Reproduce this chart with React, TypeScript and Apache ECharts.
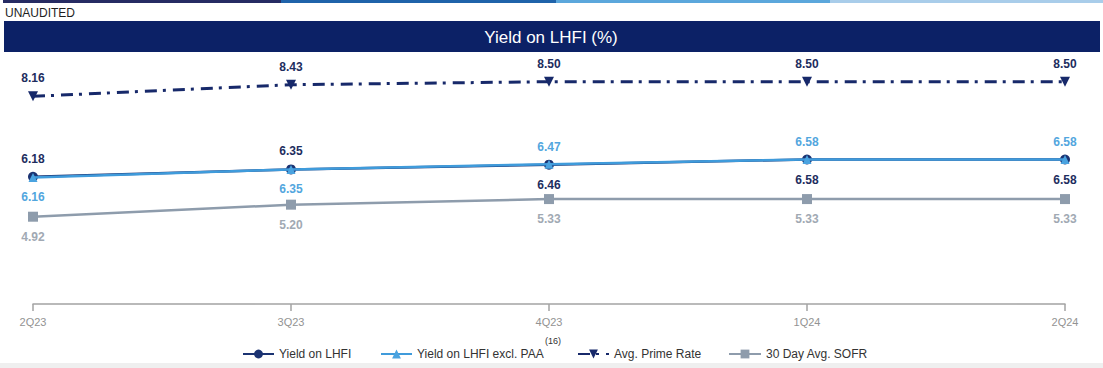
import React, { useEffect, useRef } from "react";
import * as echarts from "echarts";

// Quarters on the category axis
const quarters = ["2Q23", "3Q23", "4Q23", "1Q24", "2Q24"];

// Yields (%)
const yieldLhfi = [6.18, 6.35, 6.46, 6.58, 6.58];
const yieldExclPaa = [6.16, 6.35, 6.47, 6.58, 6.58];
const avgPrimeRate = [8.16, 8.43, 8.5, 8.5, 8.5];
const sofr30Day = [4.92, 5.2, 5.33, 5.33, 5.33];

const seriesNames = [
  "Yield on LHFI",
  "Yield on LHFI excl. PAA",
  "Avg. Prime Rate",
  "30 Day Avg. SOFR",
];
const footnoteMark = "(16)";

// Where each point's value label sits
const lhfiLabelSide = ["top", "top", "bottom", "bottom", "bottom"];
const exclPaaLabelSide = ["bottom", "bottom", "top", "top", "top"];

const FONT = "'Liberation Sans', Arial, Helvetica, sans-serif";
const NAVY = "#17296a";
const LHFI_COLOR = "#1b3372";
const PAA_COLOR = "#3f9bdb";
const SOFR_COLOR = "#8e9cac";

const labelFor = (side: string, color: string) => ({
  show: true,
  position: side,
  distance: side === "top" ? 7 : 9,
  color,
  fontFamily: FONT,
  fontSize: 12,
  fontWeight: "bold" as const,
  formatter: (p: any) => Number(p.value).toFixed(2),
});

export default function App() {
  const ref = useRef<HTMLDivElement>(null);

  useEffect(() => {
    if (!ref.current) return;
    const chart = echarts.init(ref.current, undefined, { renderer: "svg" });

    const legendLeft = [237, 375, 572, 723];
    const legendIconWidth = [31, 31, 31, 32];

    const option: echarts.EChartsOption = {
      animation: false,
      backgroundColor: "#ffffff",
      textStyle: { fontFamily: FONT },
      graphic: [
        // coloured strip along the top edge
        { type: "rect", shape: { x: 3, y: 0, width: 278, height: 3 }, style: { fill: "#262b63" } },
        { type: "rect", shape: { x: 281, y: 0, width: 275, height: 3 }, style: { fill: "#1f63aa" } },
        { type: "rect", shape: { x: 556, y: 0, width: 274, height: 3 }, style: { fill: "#5ba7dc" } },
        { type: "rect", shape: { x: 830, y: 0, width: 273, height: 3 }, style: { fill: "#a9cdea" } },
        {
          type: "text",
          left: 5,
          top: 7,
          style: { text: "UNAUDITED", fill: "#1e1e1e", font: `12px ${FONT}` },
        },
        // title banner
        { type: "rect", shape: { x: 4, y: 21, width: 1096, height: 31 }, style: { fill: "#0c2166" } },
        {
          type: "text",
          x: 551,
          y: 37,
          style: {
            text: "Yield on LHFI (%)",
            fill: "#ffffff",
            font: `17px ${FONT}`,
            align: "center",
            verticalAlign: "middle",
          },
        },
        // footnote reference on the second legend entry
        {
          type: "text",
          x: 545,
          y: 341,
          style: {
            text: footnoteMark,
            fill: "#333333",
            font: `9px ${FONT}`,
            verticalAlign: "middle",
          },
        },
        { type: "rect", shape: { x: 0, y: 363, width: 1103, height: 5 }, style: { fill: "#efefef" } },
      ],
      legend: seriesNames.map((name, i) => ({
        data: [name],
        left: legendLeft[i],
        top: 343,
        itemWidth: legendIconWidth[i],
        itemHeight: 11,
        selectedMode: false,
        textStyle: { color: "#333333", fontSize: 12, fontFamily: FONT },
      })),
      grid: { left: 33, right: 38, top: 60, bottom: 64 },
      xAxis: {
        type: "category",
        data: quarters,
        boundaryGap: false,
        axisLine: { onZero: false, lineStyle: { color: "#a3a3a3", width: 1.5 } },
        axisTick: { show: true, length: 7, alignWithLabel: true, lineStyle: { color: "#a3a3a3", width: 1.5 } },
        axisLabel: { color: "#939393", fontSize: 11, fontFamily: FONT, margin: 12 },
        splitLine: { show: false },
      },
      // one hidden value axis per band of lines, same scale, stacked offsets
      yAxis: [
        { type: "value", show: false, min: 3.331, max: 9.005, splitLine: { show: false } },
        { type: "value", show: false, min: 3.22, max: 8.894, splitLine: { show: false } },
        { type: "value", show: false, min: 2.89, max: 8.564, splitLine: { show: false } },
      ],
      series: [
        {
          name: seriesNames[3],
          type: "line",
          yAxisIndex: 2,
          symbol: "rect",
          symbolSize: 10,
          lineStyle: { color: SOFR_COLOR, width: 2.5 },
          itemStyle: { color: SOFR_COLOR },
          data: sofr30Day.map((v) => ({ value: v, label: labelFor("bottom", "#a1a9b3") })),
          z: 2,
        },
        {
          name: seriesNames[2],
          type: "line",
          yAxisIndex: 0,
          symbol: "triangle",
          symbolRotate: 180,
          symbolSize: 10,
          lineStyle: { color: NAVY, width: 3, type: [12, 6, 3, 7] },
          itemStyle: { color: NAVY },
          data: avgPrimeRate.map((v) => ({ value: v, label: labelFor("top", "#1d2d5e") })),
          z: 2,
        },
        {
          name: seriesNames[0],
          type: "line",
          yAxisIndex: 1,
          symbol: "circle",
          symbolSize: 10,
          lineStyle: { color: LHFI_COLOR, width: 2.5 },
          itemStyle: { color: LHFI_COLOR },
          data: yieldLhfi.map((v, i) => ({ value: v, label: labelFor(lhfiLabelSide[i], "#1d2d5e") })),
          z: 3,
        },
        {
          name: seriesNames[1],
          type: "line",
          yAxisIndex: 1,
          symbol: "triangle",
          symbolSize: 9,
          lineStyle: { color: PAA_COLOR, width: 2.5 },
          itemStyle: { color: "#4aa3e0" },
          data: yieldExclPaa.map((v, i) => ({ value: v, label: labelFor(exclPaaLabelSide[i], "#52a6de") })),
          z: 4,
        },
      ],
    };

    chart.setOption(option);
    return () => chart.dispose();
  }, []);

  return (
    <div
      ref={ref}
      style={{ position: "fixed", left: 0, top: 0, width: 1103, height: 368 }}
    />
  );
}
